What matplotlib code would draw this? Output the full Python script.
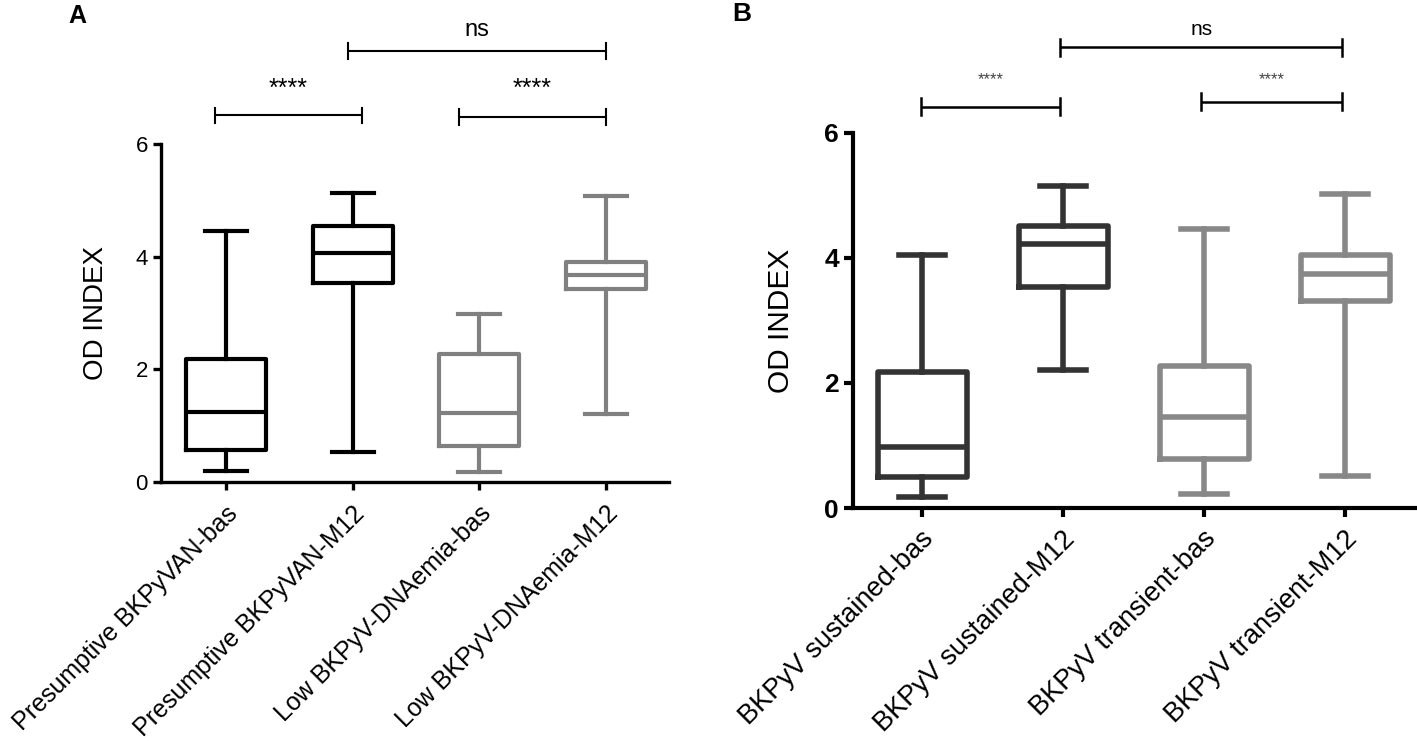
import matplotlib
matplotlib.use('Agg')
import matplotlib.pyplot as plt
import matplotlib.transforms as mtransforms

plt.rcParams['font.family'] = ['Liberation Sans', 'DejaVu Sans']

# Panel A data (min / Q1 / median / Q3 / max)
labels_a = ['Presumptive BKPyVAN-bas', 'Presumptive BKPyVAN-M12',
            'Low BKPyV-DNAemia-bas', 'Low BKPyV-DNAemia-M12']
lo_a = [0.20, 0.53, 0.18, 1.21]
q1_a = [0.57, 3.53, 0.64, 3.43]
med_a = [1.24, 4.06, 1.22, 3.67]
q3_a = [2.18, 4.55, 2.28, 3.91]
hi_a = [4.46, 5.14, 2.98, 5.08]
colors_a = ['#000000', '#000000', '#808080', '#808080']

# Panel B data
labels_b = ['BKPyV sustained-bas', 'BKPyV sustained-M12',
            'BKPyV transient-bas', 'BKPyV transient-M12']
lo_b = [0.18, 2.21, 0.22, 0.52]
q1_b = [0.49, 3.53, 0.79, 3.31]
med_b = [0.98, 4.23, 1.46, 3.75]
q3_b = [2.18, 4.51, 2.27, 4.04]
hi_b = [4.04, 5.15, 4.46, 5.03]
colors_b = ['#333333', '#333333', '#888888', '#888888']

# significance brackets: (x start, x end, y, text, text y)
brackets_a = [(-0.09, 1.07, 6.51, '****', 6.98),
              (1.84, 3.00, 6.48, '****', 6.98),
              (0.96, 3.00, 7.66, 'ns', 8.03)]
brackets_b = [(-0.01, 0.98, 6.42, '****', 6.86),
              (1.98, 2.98, 6.50, '****', 6.86),
              (0.98, 2.98, 7.37, 'ns', 7.66)]


def draw_boxes(ax, lo, q1, med, q3, hi, colors, lw):
    for i in range(len(med)):
        stats = [dict(whislo=lo[i], q1=q1[i], med=med[i], q3=q3[i],
                      whishi=hi[i], fliers=[])]
        c = colors[i]
        ax.bxp(stats, positions=[i], widths=0.63, capwidths=0.33,
               showfliers=False, manage_ticks=False,
               boxprops=dict(color=c, lw=lw, solid_joinstyle='round'),
               medianprops=dict(color=c, lw=lw),
               whiskerprops=dict(color=c, lw=lw),
               capprops=dict(color=c, lw=lw))


def draw_brackets(ax, brackets, lw, h, star_fs, ns_fs, star_color):
    for x0, x1, y, txt, ty in brackets:
        ax.plot([x0, x1], [y, y], color='black', lw=lw, solid_capstyle='butt')
        ax.plot([x0, x0], [y - h, y + h], color='black', lw=lw)
        ax.plot([x1, x1], [y - h, y + h], color='black', lw=lw)
        if txt == 'ns':
            ax.text((x0 + x1) / 2, ty, txt, ha='center', va='center',
                    fontsize=ns_fs, color='black')
        else:
            ax.text((x0 + x1) / 2, ty, txt, ha='center', va='center',
                    fontsize=star_fs, color=star_color)


def style_axes(ax, spine_lw, tick_len, ytick_fs, ytick_weight,
               xlim, ylim):
    ax.set_xlim(*xlim)
    ax.set_ylim(*ylim)
    for s in ['top', 'right']:
        ax.spines[s].set_visible(False)
    ax.spines['left'].set_bounds(0, 6)
    ax.spines['left'].set_linewidth(spine_lw)
    ax.spines['bottom'].set_linewidth(spine_lw)
    ax.set_yticks([0, 2, 4, 6])
    ax.set_yticklabels(['0', '2', '4', '6'], fontsize=ytick_fs,
                       fontweight=ytick_weight)
    ax.tick_params(axis='both', width=spine_lw, length=tick_len,
                   direction='out')
    ax.set_xticks(range(4))


fig = plt.figure(figsize=(14.17, 7.41), dpi=100)

# Panel A
ax_a = fig.add_axes([161 / 1417, 259 / 741, 508 / 1417, 8.5 * 56.3 / 741])
draw_boxes(ax_a, lo_a, q1_a, med_a, q3_a, hi_a, colors_a, 3.0)
draw_brackets(ax_a, brackets_a, 1.5, 0.14, 18, 17, 'black')
style_axes(ax_a, 2.4, 6, 16, 'normal', (-0.513, 3.497), (0, 8.5))
ax_a.set_xticklabels(labels_a, rotation=45, ha='right', va='center',
                     rotation_mode='anchor', fontsize=18)
ax_a.tick_params(axis='x', pad=14)
ax_a.set_ylabel('OD INDEX', fontsize=20)
ax_a.yaxis.set_label_coords(-0.92, 3, transform=ax_a.transData)

# Panel B
ax_b = fig.add_axes([853 / 1417, 233 / 741, 564 / 1417, 8.1 * 62.5 / 741])
draw_boxes(ax_b, lo_b, q1_b, med_b, q3_b, hi_b, colors_b, 4.0)
draw_brackets(ax_b, brackets_b, 1.8, 0.14, 12, 15, '#444444')
style_axes(ax_b, 3.0, 6.5, 19, 'bold', (-0.49, 3.51), (0, 8.1))
ax_b.set_xticklabels(labels_b, rotation=45, ha='right', va='center',
                     rotation_mode='anchor', fontsize=19.5)
ax_b.tick_params(axis='x', pad=13)
ax_b.set_ylabel('OD INDEX', fontsize=21.5)
ax_b.yaxis.set_label_coords(-0.90, 3, transform=ax_b.transData)

# shift rotated labels a little to the right, as in the original
offset = mtransforms.ScaledTranslation(0.08, 0, fig.dpi_scale_trans)
for ax in (ax_a, ax_b):
    for lab in ax.get_xticklabels():
        lab.set_transform(lab.get_transform() + offset)

fig.text(68 / 1417, 1 - 4 / 741, 'A', fontsize=18, fontweight='bold',
         ha='left', va='top')
fig.text(732 / 1417, 1 - 2 / 741, 'B', fontsize=19, fontweight='bold',
         ha='left', va='top')

fig.savefig('out.png', dpi=100)
